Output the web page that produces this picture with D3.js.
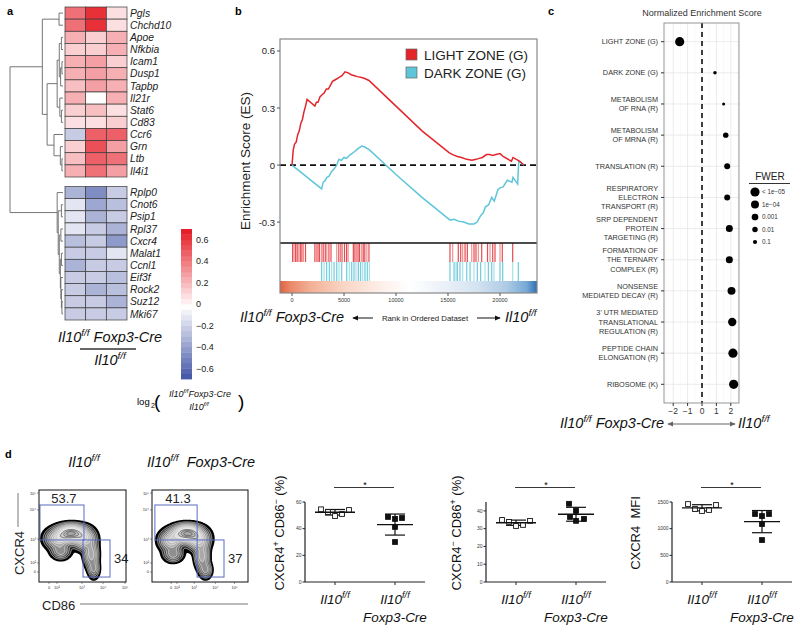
<!DOCTYPE html>
<html><head><meta charset="utf-8">
<script src="https://cdn.jsdelivr.net/npm/d3@7"></script>
<style>body{margin:0;background:#fff} svg{display:block;font-family:"Liberation Sans",Arial,Helvetica,sans-serif}</style>
</head><body><svg id="c" width="800" height="631"></svg>
<script>
// ================= DATA =================
// Panel a: heatmap (log2 ratio, 3 replicate columns)
const heatSamples = ["r1", "r2", "r3"];
const upGenes = ["Pgls","Chchd10","Apoe","Nfkbia","Icam1","Dusp1","Tapbp","Il21r","Stat6","Cd83","Ccr6","Grn","Ltb","Il4i1"];
const upValues = [
  [0.45,0.65,0.10],[0.45,0.65,0.10],[0.25,0.15,0.25],[0.15,0.15,0.25],[0.25,0.30,0.15],
  [0.25,0.30,0.25],[0.20,0.30,0.25],[0.25,0.00,0.25],[0.15,0.20,0.10],[0.10,0.10,0.15],
  [-0.20,0.50,0.50],[0.15,0.55,0.30],[0.20,0.50,0.45],[0.25,0.45,0.30]];
const downGenes = ["Rplp0","Cnot6","Psip1","Rpl37","Cxcr4","Malat1","Ccnl1","Eif3f","Rock2","Suz12","Mki67"];
const downValues = [
  [-0.30,-0.45,-0.20],[-0.10,-0.35,-0.25],[-0.10,-0.30,-0.20],[-0.08,-0.22,-0.32],[-0.25,-0.20,-0.40],
  [-0.20,-0.20,-0.10],[-0.30,-0.20,-0.20],[-0.20,-0.20,-0.25],[-0.20,-0.28,-0.25],[-0.20,-0.20,-0.30],[-0.20,-0.20,-0.20]];
const colorbarTicks = [0.6,0.4,0.2,0,-0.2,-0.4,-0.6];
// dendrogram: [mergeHeight, left, right]
const dendro = [1.0,
  [0.39,
    [0.075,"Pgls","Chchd10"],
    [0.30,
      [0.11,
        [0.07,[0.03,"Apoe","Nfkbia"],[0.045,[0.02,"Icam1","Dusp1"],"Tapbp"]],
        [0.06,"Il21r",[0.03,"Stat6","Cd83"]]],
      [0.17,"Ccr6",[0.05,"Grn",[0.02,"Ltb","Il4i1"]]]]],
  [0.11,"Rplp0",[0.09,[0.03,"Cnot6","Psip1"],[0.07,[0.04,"Rpl37","Cxcr4"],
      [0.05,[0.03,"Malat1","Ccnl1"],[0.04,"Eif3f",[0.03,"Rock2",[0.02,"Suz12","Mki67"]]]]]]]];

// Panel b: GSEA running enrichment scores [rank, ES]
const esLight = [[0,0],[120,0.08],[250,0.11],[400,0.12],[550,0.16],[700,0.18],[850,0.22],[1000,0.24],[1150,0.28],[1300,0.31],[1450,0.345],
  [2200,0.31],[2350,0.33],[2500,0.33],[2700,0.36],[2900,0.37],[3100,0.38],[3300,0.40],[3500,0.40],[3700,0.42],[3900,0.44],[4200,0.45],
  [4500,0.46],[4800,0.47],[5100,0.49],[5400,0.485],[5700,0.475],[6000,0.47],[6300,0.465],[6700,0.46],[7000,0.455],[7400,0.445],
  [10000,0.31],[12500,0.18],[15100,0.065],[15450,0.055],[15900,0.045],[16300,0.04],[16800,0.03],[17300,0.025],[17700,0.03],
  [18000,0.035],[18300,0.04],[18700,0.055],[19000,0.055],[19300,0.05],[19600,0.055],[20000,0.06],[20300,0.045],[21100,0.02],
  [21250,0.04],[21900,0.02],[22300,0]];
const esDark = [[0,0],[2850,-0.125],[3000,-0.09],[3150,-0.085],[3350,-0.065],[3550,-0.06],[3800,-0.035],[4050,-0.02],[4300,0.0],
  [4500,0.03],[4750,0.025],[5000,0.04],[5250,0.035],[5500,0.05],[5750,0.06],[6000,0.07],[6200,0.08],[6450,0.09],[6700,0.10],
  [7000,0.095],[7450,0.08],[10000,-0.05],[12500,-0.17],[15200,-0.29],[15600,-0.285],[16000,-0.295],[16500,-0.30],[17000,-0.31],
  [17500,-0.31],[17800,-0.30],[18100,-0.27],[18400,-0.25],[18600,-0.22],[18900,-0.21],[19200,-0.17],[19450,-0.19],[19800,-0.13],
  [20000,-0.12],[20300,-0.115],[20700,-0.08],[21150,-0.09],[21250,-0.065],[21700,-0.10],[21800,0.02],[22300,0]];
const hitsLight = [60,200,350,500,650,800,950,1100,1300,2200,2350,2500,2650,2850,3000,3200,3350,3550,3750,4300,4500,4700,4850,
  5050,5250,5400,5900,6050,6200,6350,6500,6700,6850,7000,7200,7400,15190,15450,15990,16220,16410,16640,16860,17280,17500,17690,
  17920,18240,18800,19040,19300,19520,20000,20220,21220];
const hitsDark = [2850,3080,3330,3590,3810,4040,4300,4520,4780,5260,5510,5740,5960,6150,6380,6600,6800,7020,7240,7440,15190,15580,
  15770,15900,16150,16410,16800,17120,17500,17820,18140,18560,18880,19200,19420,20000,20260,21220,21760];
const gseaTicks = [0,5000,10000,15000,20000];
const esTicks = [-0.3,0,0.3,0.6];

// Panel c: NES dot plot
const pathways = ["LIGHT ZONE (G)","DARK ZONE (G)","METABOLISM\nOF RNA (R)","METABOLISM\nOF MRNA (R)","TRANSLATION (R)",
  "RESPIRATORY\nELECTRON\nTRANSPORT (R)","SRP DEPENDENT\nPROTEIN\nTARGETING (R)","FORMATION OF\nTHE TERNARY\nCOMPLEX (R)",
  "NONSENSE\nMEDIATED DECAY (R)","3' UTR MEDIATED\nTRANSLATIONAL\nREGULATION (R)","PEPTIDE CHAIN\nELONGATION (R)","RIBOSOME (K)"];
const nesValues = [-1.55,0.9,1.5,1.65,1.75,1.75,1.9,1.9,2.05,2.1,2.15,2.2];
const fwerValues = [1e-5,0.4,1,0.01,0.004,0.004,6e-4,6e-4,1e-4,5e-5,1e-5,1e-5];
const nesTicks = [-2,-1,0,1,2];
const fwerLegend = [1e-5,1e-4,1e-3,1e-2,1e-1];
const fwerLegendLabels = ["< 1e\u221205","1e\u221204","0.001","0.01","0.1"];

// Panel d: flow (density described by gaussian components [cx, cy, sx, sy, weight] in axis fraction units)
const flowWT = [[0.37,0.53,0.09,0.05,1.0],[0.22,0.47,0.08,0.06,0.5],[0.52,0.47,0.07,0.065,0.5],[0.60,0.30,0.045,0.08,0.35],[0.63,0.14,0.035,0.055,0.22],[0.25,0.33,0.06,0.045,0.25]];
const flowKO = [[0.36,0.53,0.085,0.05,1.0],[0.20,0.45,0.065,0.06,0.5],[0.48,0.46,0.065,0.065,0.5],[0.52,0.28,0.04,0.08,0.35],[0.56,0.13,0.035,0.05,0.22],[0.22,0.30,0.055,0.045,0.25]];
const flowGatesWT = [[0.011,0.517,0.457,0.837],[0.506,0.816,0.054,0.457]];
const flowGatesKO = [[0.03,0.47,0.457,0.837],[0.47,0.75,0.054,0.457]];
const flowPctWT = ["53.7","34"];
const flowPctKO = ["41.3","37"];
const flowTickLabels = ["0","10\u00b2","10\u00b3","10\u2074","10\u2075"];
const flowXTicksWT = [0.115,0.207,0.494,0.736,0.989];
const flowXTicksKO = [0.20,0.26,0.44,0.66,0.86];
const flowYTicks = [0.109,0.207,0.467,0.783,0.967];

// Panel d: summary plots
const cd86negWT = [54.5,52.5,49.5,51,54];
const cd86negKO = [48.8,47.3,48,41.3,30];
const cd86posWT = [34.9,33.8,31.5,32.1,34.4];
const cd86posKO = [44,40,36.6,34.4,35.5];
const mfiWT = [1462,1369,1331,1350,1444];
const mfiKO = [1275,1237,1275,1087,787];

// ================= DRAW =================
const svg = d3.select("#c");
const defs = svg.append("defs");
defs.append("marker").attr("id","arr").attr("viewBox","0 0 8 8").attr("refX",7).attr("refY",4)
  .attr("markerWidth",6).attr("markerHeight",6).attr("orient","auto-start-reverse")
  .append("path").attr("d","M0,0.5 L8,4 L0,7.5 z").attr("fill","#111");
defs.append("marker").attr("id","arrg").attr("viewBox","0 0 8 8").attr("refX",7).attr("refY",4)
  .attr("markerWidth",5).attr("markerHeight",5).attr("orient","auto-start-reverse")
  .append("path").attr("d","M0,0.5 L8,4 L0,7.5 z").attr("fill","#666");

function rich(g, x, y, parts, fs, opts = {}) {
  const t = g.append("text").attr("font-size", fs).attr("text-anchor", opts.anchor || "start")
    .attr("fill", opts.fill || "#111");
  if (opts.rotate) t.attr("transform", `translate(${x},${y}) rotate(${opts.rotate})`);
  else t.attr("x", x).attr("y", y);
  if (opts.italic) t.attr("font-style", "italic");
  let cur = 0;
  parts.forEach(p => {
    const [str, kind] = typeof p === "string" ? [p, null] : p;
    const target = kind === "sup" ? -fs * 0.42 : kind === "sub" ? fs * 0.3 : 0;
    const ts = t.append("tspan").attr("dy", target - cur).text(str);
    if (kind) ts.attr("font-size", fs * 0.68);
    cur = target;
  });
  return t;
}
const IL = ["Il10", ["f/f", "sup"]];
const ILKO = ["Il10", ["f/f", "sup"], " Foxp3-Cre"];

function panelLabel(t, x, y) {
  svg.append("text").attr("x", x).attr("y", y).attr("font-size", 11).attr("font-weight", "bold").text(t);
}
panelLabel("a", 7, 15); panelLabel("b", 235, 15); panelLabel("c", 548, 15); panelLabel("d", 5, 458);

// ---------- Panel a ----------
(function () {
  const g = svg.append("g");
  const hx = d3.scaleBand().domain(heatSamples).range([65, 127]);
  const yUp = d3.scaleBand().domain(upGenes).range([7, 177]);
  const yDn = d3.scaleBand().domain(downGenes).range([186.5, 320]);
  const col = d3.scaleLinear().domain([-0.7, 0, 0.7]).range(["#3a4ea2", "#ffffff", "#e6202a"]).clamp(true);
  const q = v => col(Math.round(v * 20) / 20);
  function block(genes, vals, ys) {
    genes.forEach((gene, i) => {
      heatSamples.forEach((s, j) => {
        g.append("rect").attr("x", hx(s)).attr("y", ys(gene)).attr("width", hx.bandwidth()).attr("height", ys.bandwidth())
          .attr("fill", q(vals[i][j])).attr("stroke", "#3a3a3a").attr("stroke-width", 0.7);
      });
      g.append("text").attr("x", 130).attr("y", ys(gene) + ys.bandwidth() / 2 + 3.6).attr("font-size", 10.3)
        .attr("font-style", "italic").attr("fill", "#222").text(gene);
    });
  }
  block(upGenes, upValues, yUp);
  block(downGenes, downValues, yDn);
  const dx = d3.scaleLinear().domain([0, 1]).range([63, 10]);
  const yOf = n => upGenes.includes(n) ? yUp(n) + yUp.bandwidth() / 2 : yDn(n) + yDn.bandwidth() / 2;
  function lay(node) {
    if (typeof node === "string") return { x: dx(0), y: yOf(node) };
    const a = lay(node[1]), b = lay(node[2]);
    const x = dx(node[0]), y = (a.y + b.y) / 2;
    g.append("path").attr("d", `M${a.x},${a.y}H${x}V${b.y}H${b.x}`).attr("fill", "none")
      .attr("stroke", "#666").attr("stroke-width", 0.9);
    return { x, y };
  }
  lay(dendro);
  const cy = d3.scaleLinear().domain([-0.7, 0.7]).range([379, 229]);
  d3.range(-0.7, 0.7, 0.05).forEach(v => {
    g.append("rect").attr("x", 181).attr("width", 11).attr("y", cy(v + 0.05)).attr("height", cy(v) - cy(v + 0.05) + 0.4)
      .attr("fill", q(v + 0.025));
  });
  colorbarTicks.forEach(v => {
    g.append("text").attr("x", 196).attr("y", cy(v) + 3.3).attr("font-size", 9).attr("fill", "#222")
      .text(v === 0 ? "0" : (v < 0 ? "\u2212" : "") + Math.abs(v).toFixed(1));
  });
  rich(g, 110, 342, ILKO, 14.5, { anchor: "middle", italic: true });
  g.append("line").attr("x1", 80).attr("x2", 136).attr("y1", 349).attr("y2", 349).attr("stroke", "#333").attr("stroke-width", 1.6);
  rich(g, 110, 365, IL, 14.5, { anchor: "middle", italic: true });
  g.append("text").attr("x", 137).attr("y", 405).attr("font-size", 9.5).text("log");
  g.append("text").attr("x", 151).attr("y", 408).attr("font-size", 7).text("2");
  g.append("text").attr("x", 154).attr("y", 408).attr("font-size", 19).attr("font-weight", 300).text("(");
  rich(g, 200, 397, ["Il10", ["f/f", "sup"], "Foxp3-Cre"], 9, { anchor: "middle", italic: true });
  rich(g, 199, 410, IL, 9, { anchor: "middle", italic: true });
  g.append("text").attr("x", 238).attr("y", 408).attr("font-size", 19).attr("font-weight", 300).text(")");
})();

// ---------- Panel b ----------
(function () {
  const g = svg.append("g");
  const L = 280, R = 537, T = 39, M = 243, B = 293;
  const x = d3.scaleLinear().domain([-1154, 23558]).range([L, R]);
  const y = d3.scaleLinear().domain([-0.41, 0.663]).range([M, T]);
  g.append("line").attr("x1", L).attr("x2", R).attr("y1", y(0)).attr("y2", y(0)).attr("stroke", "#111")
    .attr("stroke-width", 1.7).attr("stroke-dasharray", "6,4");
  const line = d3.line().x(d => x(d[0])).y(d => y(d[1]));
  g.append("path").datum(esDark).attr("d", line).attr("fill", "none").attr("stroke", "#5ec6d8").attr("stroke-width", 1.5);
  g.append("path").datum(esLight).attr("d", line).attr("fill", "none").attr("stroke", "#e3252b").attr("stroke-width", 1.5);
  hitsLight.forEach((r, i) => g.append("line").attr("x1", x(r)).attr("x2", x(r)).attr("y1", M).attr("y2", 262)
    .attr("stroke", "#e23a3e").attr("stroke-opacity", i % 3 === 1 ? 0.55 : 0.9).attr("stroke-width", 1.2));
  hitsDark.forEach((r, i) => g.append("line").attr("x1", x(r)).attr("x2", x(r)).attr("y1", 262).attr("y2", 281)
    .attr("stroke", "#5ec6d8").attr("stroke-opacity", i % 3 === 1 ? 0.55 : 0.9).attr("stroke-width", 1.2));
  const grad = defs.append("linearGradient").attr("id", "rankgrad");
  [[0, "#e0603f"], [0.04, "#ea8868"], [0.12, "#f3b196"], [0.25, "#f9d6c6"], [0.4, "#fdf0ea"], [0.5, "#ffffff"],
   [0.62, "#eef3f9"], [0.76, "#d5e4f1"], [0.88, "#aecbe5"], [0.96, "#76a8d6"], [1, "#2e6fb3"]]
    .forEach(s => grad.append("stop").attr("offset", s[0]).attr("stop-color", s[1]));
  g.append("rect").attr("x", L).attr("y", 281).attr("width", R - L).attr("height", B - 281).attr("fill", "url(#rankgrad)");
  g.append("line").attr("x1", L).attr("x2", R).attr("y1", M).attr("y2", M).attr("stroke", "#111").attr("stroke-width", 1.6);
  g.append("rect").attr("x", L).attr("y", T).attr("width", R - L).attr("height", B - T).attr("fill", "none")
    .attr("stroke", "#888").attr("stroke-width", 1.2);
  esTicks.forEach(v => {
    g.append("line").attr("x1", L - 3).attr("x2", L).attr("y1", y(v)).attr("y2", y(v)).attr("stroke", "#555");
    g.append("text").attr("x", L - 5).attr("y", y(v) + 3.5).attr("text-anchor", "end").attr("font-size", 9.5)
      .attr("fill", "#222").text(v === 0 ? "0" : v.toFixed(1));
  });
  gseaTicks.forEach(v => {
    g.append("line").attr("x1", x(v)).attr("x2", x(v)).attr("y1", B).attr("y2", B + 3).attr("stroke", "#555");
    g.append("text").attr("x", x(v)).attr("y", B + 9).attr("text-anchor", "middle").attr("font-size", 5.5)
      .attr("fill", "#333").text(v);
  });
  g.append("text").attr("transform", `translate(250,${(T + M) / 2 + 20}) rotate(-90)`).attr("text-anchor", "middle")
    .attr("font-size", 13.5).attr("fill", "#222").text("Enrichment Score (ES)");
  [["LIGHT ZONE (G)", "#e3252b", 49], ["DARK ZONE (G)", "#5ec6d8", 67]].forEach(d => {
    g.append("rect").attr("x", 406).attr("y", d[2]).attr("width", 11).attr("height", 11).attr("fill", d[1])
      .attr("stroke", "#666").attr("stroke-width", 0.7);
    g.append("text").attr("x", 424).attr("y", d[2] + 10.5).attr("font-size", 13.5).attr("fill", "#222").text(d[0]);
  });
  rich(g, 240, 322, ILKO, 14.5, { italic: true });
  g.append("line").attr("x1", 373).attr("x2", 353).attr("y1", 318).attr("y2", 318).attr("stroke", "#111").attr("stroke-width", 1)
    .attr("marker-end", "url(#arr)");
  g.append("text").attr("x", 425).attr("y", 321).attr("text-anchor", "middle").attr("font-size", 7.8).attr("fill", "#222")
    .text("Rank in Ordered Dataset");
  g.append("line").attr("x1", 477).attr("x2", 500).attr("y1", 318).attr("y2", 318).attr("stroke", "#111").attr("stroke-width", 1)
    .attr("marker-end", "url(#arr)");
  rich(g, 505, 322, IL, 14.5, { italic: true });
})();

// ---------- Panel c ----------
(function () {
  const g = svg.append("g");
  const L = 664, R = 739, T = 23, B = 403;
  const x = d3.scaleLinear().domain([-2.64, 2.57]).range([L, R]);
  const y = d3.scalePoint().domain(pathways).range([T, B]).padding(0.6);
  const r = d3.scaleLinear().domain([0, 5]).range([1.5, 4.6]).clamp(true);
  const rad = p => r(-Math.log10(Math.max(p, 1e-5)));
  [-2.5, -1.5, -0.5, 0.5, 1.5, 2.5].forEach(v => g.append("line").attr("x1", x(v)).attr("x2", x(v)).attr("y1", T).attr("y2", B)
    .attr("stroke", "#f3f3f3").attr("stroke-width", 0.5));
  nesTicks.forEach(v => g.append("line").attr("x1", x(v)).attr("x2", x(v)).attr("y1", T).attr("y2", B)
    .attr("stroke", "#e6e6e6").attr("stroke-width", 0.8));
  pathways.forEach(p => g.append("line").attr("x1", L).attr("x2", R).attr("y1", y(p)).attr("y2", y(p))
    .attr("stroke", "#e6e6e6").attr("stroke-width", 0.8));
  g.append("line").attr("x1", x(0)).attr("x2", x(0)).attr("y1", T).attr("y2", B).attr("stroke", "#111")
    .attr("stroke-width", 1.6).attr("stroke-dasharray", "5,4");
  pathways.forEach((p, i) => g.append("circle").attr("cx", x(nesValues[i])).attr("cy", y(p)).attr("r", rad(fwerValues[i]))
    .attr("fill", "#000"));
  g.append("rect").attr("x", L).attr("y", T).attr("width", R - L).attr("height", B - T).attr("fill", "none")
    .attr("stroke", "#8a8a8a").attr("stroke-width", 0.9);
  pathways.forEach(p => {
    const lines = p.split("\n");
    g.append("line").attr("x1", L - 3).attr("x2", L).attr("y1", y(p)).attr("y2", y(p)).attr("stroke", "#333");
    lines.forEach((ln, k) => g.append("text").attr("x", L - 6).attr("y", y(p) + 2.6 + (k - (lines.length - 1) / 2) * 9.2)
      .attr("text-anchor", "end").attr("font-size", 7.3).attr("fill", "#333").text(ln));
  });
  nesTicks.forEach(v => {
    g.append("line").attr("x1", x(v)).attr("x2", x(v)).attr("y1", B).attr("y2", B + 3).attr("stroke", "#333");
    g.append("text").attr("x", x(v)).attr("y", B + 11).attr("text-anchor", "middle").attr("font-size", 8.5)
      .attr("fill", "#333").text(v < 0 ? "\u2212" + Math.abs(v) : v);
  });
  g.append("text").attr("x", 702).attr("y", 16).attr("text-anchor", "middle").attr("font-size", 9).attr("fill", "#333")
    .text("Normalized Enrichment Score");
  g.append("text").attr("x", 770).attr("y", 180).attr("text-anchor", "middle").attr("font-size", 10).attr("fill", "#222").text("FWER");
  g.append("line").attr("x1", 749).attr("x2", 790).attr("y1", 183.5).attr("y2", 183.5).attr("stroke", "#333").attr("stroke-width", 1);
  fwerLegend.forEach((p, i) => {
    const yy = 192 + i * 12.5;
    g.append("circle").attr("cx", 755).attr("cy", yy).attr("r", rad(p)).attr("fill", "#000");
    g.append("text").attr("x", 762).attr("y", yy + 2.3).attr("font-size", 6.3).attr("fill", "#333").text(fwerLegendLabels[i]);
  });
  rich(g, 560, 428, ILKO, 14.5, { italic: true });
  g.append("line").attr("x1", 668).attr("x2", 735).attr("y1", 424).attr("y2", 424).attr("stroke", "#666").attr("stroke-width", 1.2)
    .attr("marker-start", "url(#arrg)").attr("marker-end", "url(#arrg)");
  rich(g, 738, 428, IL, 14.5, { italic: true });
})();

// ---------- Panel d: flow ----------
function flowPlot(x0, y0, w, h, comps, gates, pct, xTicks, id) {
  const g = svg.append("g");
  defs.append("clipPath").attr("id", id).append("rect").attr("x", x0).attr("y", y0).attr("width", w).attr("height", h);
  const n = 140, m = 140;
  const vals = new Float64Array(n * m);
  for (let j = 0; j < m; j++) for (let i = 0; i < n; i++) {
    const fx = (i + 0.5) / n, fy = 1 - (j + 0.5) / m;
    let s = 0;
    comps.forEach(c => { s += c[4] * Math.exp(-((fx - c[0]) ** 2 / (2 * c[2] ** 2) + (fy - c[1]) ** 2 / (2 * c[3] ** 2))); });
    vals[j * n + i] = s;
  }
  const mx = d3.max(vals);
  const levels = [0.02, 0.045, 0.08, 0.13, 0.19, 0.27, 0.36, 0.46, 0.57, 0.69, 0.81, 0.92];
  const fills = ["#000", "#262626", "#4c4c4c", "#707070", "#8f8f8f", "#a9a9a9", "#bdbdbd", "#cecece", "#dcdcdc", "#d0d0d0", "#bcbcbc", "#a8a8a8"];
  const cs = d3.contours().size([n, m]).thresholds(levels.map(l => l * mx))(vals);
  const proj = d3.geoTransform({ point(px, py) { this.stream.point(x0 + px / n * w, y0 + py / m * h); } });
  const path = d3.geoPath(proj);
  const cg = g.append("g").attr("clip-path", `url(#${id})`);
  cs.forEach((c, k) => cg.append("path").attr("d", path(c)).attr("fill", fills[k])
    .attr("stroke", k === 0 ? "#000" : (k < 9 ? "#fff" : "#2a2a2a")).attr("stroke-width", k === 0 ? 1.5 : 0.55));
  const gx = d3.scaleLinear().domain([0, 1]).range([x0, x0 + w]);
  const gy = d3.scaleLinear().domain([0, 1]).range([y0 + h, y0]);
  gates.forEach(gt => g.append("rect").attr("x", gx(gt[0])).attr("y", gy(gt[3])).attr("width", gx(gt[1]) - gx(gt[0]))
    .attr("height", gy(gt[2]) - gy(gt[3])).attr("fill", "none").attr("stroke", "#5a6cc0").attr("stroke-width", 1));
  g.append("text").attr("x", (gx(gates[0][0]) + gx(gates[0][1])) / 2 + 2).attr("y", gy(gates[0][3]) - 1.5)
    .attr("text-anchor", "middle").attr("font-size", 13).attr("fill", "#222").text(pct[0]);
  g.append("text").attr("x", gx(gates[1][1]) + 4).attr("y", (gy(gates[1][2]) + gy(gates[1][3])) / 2 + 5)
    .attr("font-size", 13).attr("fill", "#222").text(pct[1]);
  g.append("rect").attr("x", x0).attr("y", y0).attr("width", w).attr("height", h).attr("fill", "none")
    .attr("stroke", "#111").attr("stroke-width", 1);
  xTicks.forEach((t, i) => {
    g.append("line").attr("x1", gx(t)).attr("x2", gx(t)).attr("y1", y0 + h).attr("y2", y0 + h + 2).attr("stroke", "#333").attr("stroke-width", 0.5);
    g.append("text").attr("x", gx(t)).attr("y", y0 + h + 7).attr("text-anchor", "middle").attr("font-size", 4).attr("fill", "#333").text(flowTickLabels[i]);
  });
  flowYTicks.forEach((t, i) => {
    g.append("line").attr("x1", x0 - 2).attr("x2", x0).attr("y1", gy(t)).attr("y2", gy(t)).attr("stroke", "#333").attr("stroke-width", 0.5);
    g.append("text").attr("x", x0 - 3).attr("y", gy(t) + 1.5).attr("text-anchor", "end").attr("font-size", 4).attr("fill", "#333").text(flowTickLabels[i]);
  });
}
flowPlot(39, 490, 87, 92, flowWT, flowGatesWT, flowPctWT, flowXTicksWT, "clipWT");
flowPlot(152, 490, 96, 92, flowKO, flowGatesKO, flowPctKO, flowXTicksKO, "clipKO");
rich(svg, 84, 467, IL, 14.5, { anchor: "middle", italic: true });
rich(svg, 147, 467, ["Il10", ["f/f", "sup"], "\u00a0 Foxp3-Cre"], 14.5, { italic: true });
svg.append("line").attr("x1", 18).attr("x2", 18).attr("y1", 493).attr("y2", 527).attr("stroke", "#777").attr("stroke-width", 1);
svg.append("text").attr("transform", "translate(24,553) rotate(-90)").attr("text-anchor", "middle").attr("font-size", 13)
  .attr("fill", "#222").text("CXCR4");
svg.append("text").attr("x", 42).attr("y", 610).attr("font-size", 13).attr("fill", "#222").text("CD86");
svg.append("line").attr("x1", 80).attr("x2", 248).attr("y1", 604).attr("y2", 604).attr("stroke", "#777").attr("stroke-width", 1);

// ---------- Panel d: summary plots ----------
function dotPlot(ax, wt, ko, dom, ticks, koOffsets, label, labelX) {
  const g = svg.append("g");
  const xs = d3.scalePoint().domain(["WT", "KO"]).range([ax, ax + 120]).padding(0.5);
  const ys = d3.scaleLinear().domain(dom).range([582, 502]);
  g.append("line").attr("x1", ax).attr("x2", ax).attr("y1", 502).attr("y2", 582).attr("stroke", "#222").attr("stroke-width", 1.2);
  g.append("line").attr("x1", ax).attr("x2", ax + 120).attr("y1", 582).attr("y2", 582).attr("stroke", "#222").attr("stroke-width", 1.2);
  ticks.forEach(t => {
    g.append("line").attr("x1", ax - 2.5).attr("x2", ax).attr("y1", ys(t)).attr("y2", ys(t)).attr("stroke", "#222");
    g.append("text").attr("x", ax - 3.5).attr("y", ys(t) + 1.8).attr("text-anchor", "end").attr("font-size", 5).attr("fill", "#333").text(t);
  });
  ["WT", "KO"].forEach(k => g.append("line").attr("x1", xs(k)).attr("x2", xs(k)).attr("y1", 582).attr("y2", 585).attr("stroke", "#222"));
  [[wt, "WT", [-14, -7, 0, 7, 14], 20], [ko, "KO", koOffsets, 18]].forEach(([vals, k, offs, half]) => {
    const mean = d3.mean(vals), sd = d3.deviation(vals), cx = xs(k);
    g.append("line").attr("x1", cx).attr("x2", cx).attr("y1", ys(mean - sd)).attr("y2", ys(mean + sd)).attr("stroke", "#111").attr("stroke-width", 1.2);
    [mean - sd, mean + sd].forEach(v => g.append("line").attr("x1", cx - 10).attr("x2", cx + 10).attr("y1", ys(v)).attr("y2", ys(v))
      .attr("stroke", "#111").attr("stroke-width", 1.2));
    vals.forEach((v, i) => g.append("rect").attr("x", cx + offs[i] - 2.4).attr("y", ys(v) - 2.4).attr("width", 4.8).attr("height", 4.8)
      .attr("fill", k === "WT" ? "#fff" : "#111").attr("stroke", "#111").attr("stroke-width", 0.9));
    g.append("line").attr("x1", cx - half).attr("x2", cx + half).attr("y1", ys(mean)).attr("y2", ys(mean)).attr("stroke", "#111").attr("stroke-width", 1.3);
  });
  g.append("line").attr("x1", xs("WT") - 1).attr("x2", xs("KO") - 1).attr("y1", 487.5).attr("y2", 487.5).attr("stroke", "#222").attr("stroke-width", 0.9);
  g.append("text").attr("x", (xs("WT") + xs("KO")) / 2).attr("y", 488).attr("text-anchor", "middle").attr("font-size", 9).text("*");
  rich(g, xs("WT"), 604, IL, 13.5, { anchor: "middle", italic: true });
  rich(g, xs("KO"), 604, IL, 13.5, { anchor: "middle", italic: true });
  g.append("text").attr("x", xs("KO")).attr("y", 622).attr("text-anchor", "middle").attr("font-size", 13.5).attr("font-style", "italic")
    .attr("fill", "#111").text("Foxp3-Cre");
  rich(g, labelX, 533, label, 13, { anchor: "middle", rotate: -90 });
}
dotPlot(305, cd86negWT, cd86negKO, [0, 60], [0, 20, 40, 60], [-7, 0, 7, 0, 0],
  ["CXCR4", ["+", "sup"], " CD86", ["\u2212", "sup"], " (%)"], 284);
dotPlot(486, cd86posWT, cd86posKO, [0, 45], [0, 10, 20, 30, 40], [-7, 0, -6, 0, 8],
  ["CXCR4", ["\u2212", "sup"], " CD86", ["+", "sup"], " (%)"], 461);
dotPlot(672, mfiWT, mfiKO, [0, 1500], [0, 500, 1000, 1500], [-7, 0, 7, 0, 0],
  ["CXCR4\u00a0\u00a0MFI"], 640);
</script></body></html>
